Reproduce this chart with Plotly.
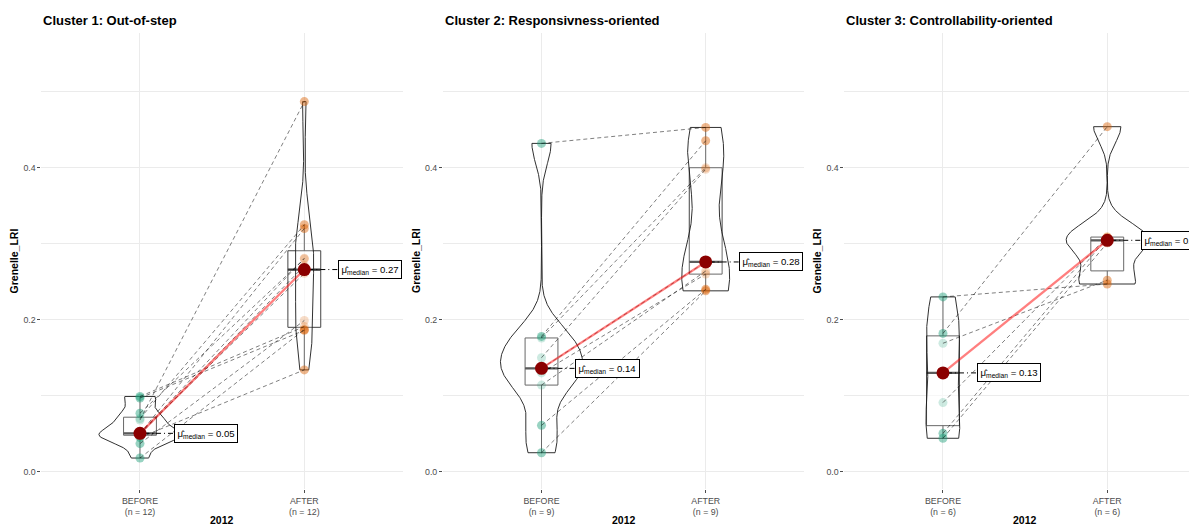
import numpy as np
import plotly.graph_objects as go

# ---------------- data ----------------
panel_titles = ["Cluster 1: Out-of-step",
                "Cluster 2: Responsivness-oriented",
                "Cluster 3: Controllability-oriented"]
conditions = ["BEFORE", "AFTER"]
y_title = "Grenelle_LRI"
x_title = "2012"
y_ticks = [0.0, 0.2, 0.4]

# paired values (row i of BEFORE is linked to row i of AFTER)
c1_before = [0.018, 0.037, 0.045, 0.049, 0.050, 0.050, 0.051, 0.068, 0.070, 0.077, 0.097, 0.099]
c1_after = [0.187, 0.199, 0.134, 0.271, 0.281, 0.320, 0.261, 0.487, 0.325, 0.280, 0.186, 0.191]

c2_before = [0.025, 0.061, 0.114, 0.130, 0.136, 0.150, 0.176, 0.178, 0.432]
c2_after = [0.238, 0.240, 0.264, 0.260, 0.276, 0.398, 0.400, 0.4355, 0.453]

c3_before = [0.044, 0.0505, 0.091, 0.169, 0.182, 0.230]
c3_after = [0.301, 0.308, 0.309, 0.252, 0.454, 0.247]

panels = [(c1_before, c1_after), (c2_before, c2_after), (c3_before, c3_after)]

# ---------------- style / layout ----------------
W, H = 1197, 524
OFF = 8  # page body margin of the browser
FONT = "Liberation Sans, Arial, sans-serif"
COLORS = ["#1B9E77", "#D95F02"]
GRID = "#EBEBEB"
TICKC = "#4D4D4D"
VIOLIN_WIDTH = 0.5
BOX_WIDTH = 0.2


def px_x(X):
    return (X - OFF) / W


def px_y(Y):
    return (H - (Y - OFF)) / H


# plot-area pixel geometry (left, right) in screen pixels and x ranges
x_px = [(41.4, 402.9), (443.0, 804.2), (844.4, 1205.0)]
x_ranges = [[0.4, 2.6], [0.4, 2.6], [0.4, 2.595]]
y_range = [-0.023, 0.577]
y_top_px, y_bot_px = 33.2, 489.2
y_dom = [px_y(y_bot_px), px_y(y_top_px)]


def bw_nrd0(x):
    x = np.asarray(x, dtype=float)
    hi = np.std(x, ddof=1)
    q75, q25 = np.percentile(x, [75, 25])
    lo = min(hi, (q75 - q25) / 1.34)
    if lo == 0:
        lo = hi if hi > 0 else (abs(x[0]) if x[0] != 0 else 1.0)
    return 0.9 * lo * len(x) ** (-0.2)


def kde(x, grid):
    x = np.asarray(x, dtype=float)
    bw = bw_nrd0(x)
    z = (grid[:, None] - x[None, :]) / bw
    return np.exp(-0.5 * z ** 2).sum(axis=1) / (len(x) * bw * np.sqrt(2 * np.pi))


def box_stats(v):
    v = np.sort(np.asarray(v, dtype=float))
    q1, med, q3 = np.percentile(v, [25, 50, 75])
    iqr = q3 - q1
    lo = v[v >= q1 - 1.5 * iqr].min()
    hi = v[v <= q3 + 1.5 * iqr].max()
    return q1, med, q3, lo, hi


fig = go.Figure()
annotations = []

for p, (before, after) in enumerate(panels):
    sfx = "" if p == 0 else str(p + 1)
    xa, ya = "x" + sfx, "y" + sfx
    groups = [before, after]
    n = len(before)
    stats = [box_stats(g) for g in groups]

    # boxes (box layer, drawn under the scatter layer)
    for k, g in enumerate(groups):
        q1, med, q3, lo, hi = stats[k]
        fig.add_trace(go.Box(
            x=[k + 1], q1=[q1], median=[med], q3=[q3],
            lowerfence=[lo], upperfence=[hi], xaxis=xa, yaxis=ya,
            width=BOX_WIDTH, whiskerwidth=0, boxpoints=False,
            line=dict(color="#444444", width=1),
            fillcolor="rgba(255,255,255,0.5)",
            showlegend=False, hoverinfo="skip"))

    # thick median lines of boxes
    for k in range(2):
        med = stats[k][1]
        fig.add_trace(go.Scatter(
            x=[k + 1 - BOX_WIDTH / 2, k + 1 + BOX_WIDTH / 2], y=[med, med],
            xaxis=xa, yaxis=ya, mode="lines",
            line=dict(color="#333333", width=2.2),
            showlegend=False, hoverinfo="skip"))

    # violins: trimmed gaussian KDE (bw.nrd0), area-scaled within the panel
    grids, dens = [], []
    for g in groups:
        grid = np.linspace(min(g), max(g), 512)
        grids.append(grid)
        dens.append(kde(g, grid))
    dmax = max(d.max() for d in dens)
    for k in range(2):
        hw = dens[k] / dmax * VIOLIN_WIDTH / 2
        vx = np.concatenate([k + 1 - hw, (k + 1 + hw)[::-1], [k + 1 - hw[0]]])
        vy = np.concatenate([grids[k], grids[k][::-1], [grids[k][0]]])
        fig.add_trace(go.Scatter(
            x=vx, y=vy, xaxis=xa, yaxis=ya, mode="lines", fill="toself",
            fillcolor="rgba(255,255,255,0.2)",
            line=dict(color="#1a1a1a", width=0.9),
            showlegend=False, hoverinfo="skip"))

    # points (lighter where covered by the semi-transparent box)
    for k, g in enumerate(groups):
        q1, med, q3, lo, hi = stats[k]
        op = [0.22 if q1 <= v <= q3 else 0.45 for v in g]
        fig.add_trace(go.Scatter(
            x=[k + 1] * len(g), y=g, xaxis=xa, yaxis=ya, mode="markers",
            marker=dict(size=9, color=COLORS[k], opacity=op, line=dict(width=0)),
            showlegend=False, hoverinfo="skip"))

    # paired dashed paths
    lx, ly = [], []
    for b, a in zip(before, after):
        lx += [1, 2, None]
        ly += [b, a, None]
    fig.add_trace(go.Scatter(
        x=lx, y=ly, xaxis=xa, yaxis=ya, mode="lines",
        line=dict(color="rgba(0,0,0,0.5)", width=1, dash="4px,3px"),
        showlegend=False, hoverinfo="skip"))

    meds = [stats[0][1], stats[1][1]]
    # centrality path
    fig.add_trace(go.Scatter(
        x=[1, 2], y=meds, xaxis=xa, yaxis=ya, mode="lines",
        line=dict(color="rgba(255,0,0,0.5)", width=2.3),
        showlegend=False, hoverinfo="skip"))
    # label connectors
    for k in range(2):
        fig.add_trace(go.Scatter(
            x=[k + 1, k + 1.4], y=[meds[k], meds[k]], xaxis=xa, yaxis=ya,
            mode="lines", line=dict(color="black", width=1, dash="1px,3px,5px,3px"),
            showlegend=False, hoverinfo="skip"))
    # centrality points
    fig.add_trace(go.Scatter(
        x=[1, 2], y=meds, xaxis=xa, yaxis=ya, mode="markers",
        marker=dict(size=13, color="#8B0000"),
        showlegend=False, hoverinfo="skip"))

    # centrality labels
    for k in range(2):
        annotations.append(dict(
            x=k + 1.4, y=meds[k], xref=xa, yref=ya, xanchor="center", yanchor="middle",
            text="μ̂<sub>median</sub> = %.2f" % meds[k], showarrow=False,
            font=dict(family=FONT, size=9.6, color="black"),
            bgcolor="white", bordercolor="black", borderwidth=1, borderpad=2.5))

    # axes
    left, right = x_px[p]
    fig.update_layout(**{
        "xaxis" + sfx: dict(
            domain=[px_x(left), min(1.0, px_x(right))], range=x_ranges[p], anchor=ya,
            tickvals=[1, 2],
            ticktext=["%s<br>(n = %d)" % (c, n) for c in conditions],
            showgrid=True, gridcolor=GRID, gridwidth=1, zeroline=False,
            ticks="outside", ticklen=3, tickcolor=TICKC, showline=False,
            tickfont=dict(family=FONT, size=8.8, color=TICKC)),
        "yaxis" + sfx: dict(
            domain=y_dom, range=y_range, anchor=xa,
            tickvals=y_ticks, ticktext=["%.1f" % t for t in y_ticks],
            showgrid=True, gridcolor=GRID, gridwidth=1, zeroline=False,
            minor=dict(dtick=0.1, tick0=0, showgrid=True, gridcolor=GRID, gridwidth=1),
            ticks="outside", ticklen=3, tickcolor=TICKC, showline=False,
            tickfont=dict(family=FONT, size=8.8, color=TICKC)),
    })

    # panel title
    annotations.append(dict(
        x=px_x(left), y=px_y(20), xref="paper", yref="paper",
        xanchor="left", yanchor="middle", text="<b>%s</b>" % panel_titles[p],
        showarrow=False, font=dict(family=FONT, size=13, color="black")))
    # y title
    annotations.append(dict(
        x=px_x(left - 27), y=px_y(261), xref="paper", yref="paper",
        xanchor="center", yanchor="middle", textangle=-90,
        text="<b>%s</b>" % y_title, showarrow=False,
        font=dict(family=FONT, size=10.5, color="black")))
    # x title (centered on the full panel width)
    unit = (x_px[0][1] - x_px[0][0]) / 2.2
    cx = left + unit * 1.1
    annotations.append(dict(
        x=px_x(cx), y=px_y(520), xref="paper", yref="paper",
        xanchor="center", yanchor="middle", text="<b>%s</b>" % x_title,
        showarrow=False, font=dict(family=FONT, size=10.5, color="black")))

fig.update_layout(
    width=W, height=H, margin=dict(l=0, r=0, t=0, b=0),
    paper_bgcolor="white", plot_bgcolor="white",
    boxmode="overlay",
    annotations=annotations, showlegend=False,
    font=dict(family=FONT))

fig.write_html("out.html")
